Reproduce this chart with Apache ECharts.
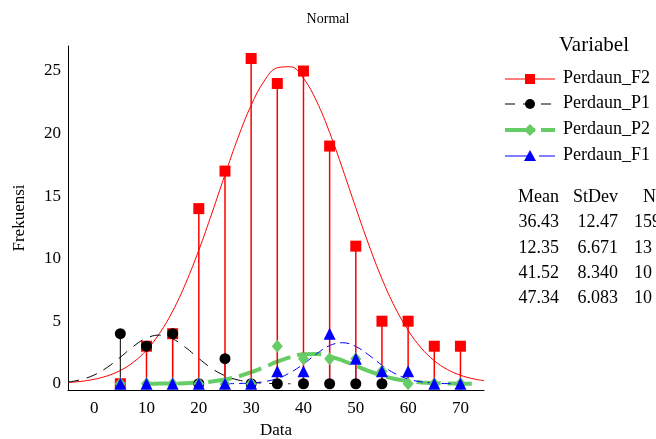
<!DOCTYPE html>
<html>
<head>
<meta charset="utf-8">
<script src="https://cdn.jsdelivr.net/npm/echarts@6/dist/echarts.min.js"></script>
<style>html,body{margin:0;padding:0;background:#fff}#chart{width:656px;height:439px}</style>
</head>
<body>
<div id="chart"></div>
<script>
// bin midpoints and counts
var bins = [5, 10, 15, 20, 25, 30, 35, 40, 45, 50, 55, 60, 65, 70];
var countF2 = [0, 3, 4, 14, 17, 26, 24, 25, 19, 11, 5, 5, 3, 3];
var countP1 = [4, 3, 4, 0, 2, 0, 0, 0, 0, 0, 0, null, null, null];
var countP2 = [0, 0, 0, 0, 0, 0, 3, 2, 2, 2, 1, 0, 0, 0];
var countF1 = [0, 0, 0, 0, 0, 0, 1, 1, 4, 2, 1, 1, 0, 0];

// fitted curves
var curveXF2 = [-5, -2.5, 0, 2.5, 5, 7.5, 10, 12.5, 15, 17.5, 20, 22.5, 25, 27.5, 30, 32.5, 35, 37.5, 40, 42.5, 45, 47.5, 50, 52.5, 55, 57.5, 60, 62.5, 65, 67.5, 70, 72.5, 74.5];
var curveF2 = [0.10, 0.19, 0.36, 0.63, 1.06, 1.72, 2.69, 4.03, 5.80, 8.04, 10.68, 13.63, 16.71, 19.68, 22.26, 24.20, 25.26, 25.34, 24.41, 22.59, 20.08, 17.15, 14.07, 11.09, 8.39, 6.10, 4.27, 2.86, 1.84, 1.14, 0.68, 0.39, 0.24];
var curveXP1 = [-5, -2.5, 0, 2.5, 5, 7.5, 10, 12.5, 15, 17.5, 20, 22.5, 25, 27.5, 30, 32.5, 35, 37.5];
var curveP1 = [0.13, 0.33, 0.70, 1.31, 2.12, 2.99, 3.65, 3.89, 3.59, 2.89, 2.02, 1.22, 0.64, 0.30, 0.12, 0.04, 0.01, 0.00];
var curveXP2 = [10, 12.5, 15, 17.5, 20, 22.5, 25, 27.5, 30, 32.5, 35, 37.5, 40, 42.5, 45, 47.5, 50, 52.5, 55, 57.5, 60, 62.5, 65, 67.5, 70, 72.5];
var curveP2 = [0.00, 0.01, 0.02, 0.04, 0.09, 0.18, 0.34, 0.58, 0.92, 1.33, 1.76, 2.13, 2.35, 2.38, 2.19, 1.85, 1.43, 1.01, 0.65, 0.38, 0.21, 0.10, 0.05, 0.02, 0.01, 0.00];
var curveXF1 = [25, 27.5, 30, 32.5, 35, 37.5, 40, 42.5, 45, 47.5, 50, 52.5, 55, 57.5, 60, 62.5, 65, 67.5, 70];
var curveF1 = [0.00, 0.02, 0.06, 0.17, 0.42, 0.89, 1.58, 2.39, 3.05, 3.28, 2.98, 2.29, 1.48, 0.81, 0.38, 0.15, 0.05, 0.01, 0.00];

var names = ['Perdaun_F2', 'Perdaun_P1', 'Perdaun_P2', 'Perdaun_F1'];
var colors = ['#ff0000', '#000000', '#66cc66', '#0000ff'];
var statsHead = ['Mean', 'StDev', 'N'];
var statMean = ['36.43', '12.35', '41.52', '47.34'];
var statSd = ['12.47', '6.671', '8.340', '6.083'];
var statN = ['159', '13', '10', '10'];
var xTicks = [0, 10, 20, 30, 40, 50, 60, 70];
var yTicks = [0, 5, 10, 15, 20, 25];

var FONT = 'Liberation Serif';

function pairs(xs, ys) {
    var out = [];
    for (var i = 0; i < xs.length; i++) {
        if (ys[i] !== null) out.push([xs[i], ys[i]]);
    }
    return out;
}

function stems(ys, color, width) {
    return {
        type: 'custom',
        z: 2,
        silent: true,
        data: pairs(bins, ys).filter(function (d) { return d[1] > 0; }),
        renderItem: function (params, api) {
            var p0 = api.coord([api.value(0), 0]);
            var p1 = api.coord([api.value(0), api.value(1)]);
            return {
                type: 'line',
                shape: { x1: p0[0], y1: p0[1], x2: p1[0], y2: p1[1] },
                style: { stroke: color, lineWidth: width }
            };
        }
    };
}

function curve(xs, ys, color, width, dash) {
    return {
        type: 'line',
        z: 1,
        silent: true,
        data: pairs(xs, ys),
        smooth: 0.4,
        symbol: 'none',
        lineStyle: { color: color, width: width, type: dash }
    };
}

function marks(ys, color, symbol, size, z) {
    return {
        type: 'scatter',
        z: z,
        silent: true,
        data: pairs(bins, ys),
        symbol: symbol,
        symbolSize: size,
        itemStyle: { color: color, opacity: 1 }
    };
}

var graphics = [
    { type: 'text', left: 'center', top: 12, style: { text: 'Normal', font: '14px ' + FONT, fill: '#000' } },
    { type: 'text', x: 559, y: 35, style: { text: 'Variabel', font: '21px ' + FONT, fill: '#000' } }
];

var legendY = [79, 104, 130, 156];
var legendDash = [null, [10, 8], [30, 6], [28, 6]];
var legendWidth = [1, 1, 4, 1];
for (var i = 0; i < names.length; i++) {
    graphics.push({
        type: 'line',
        shape: { x1: 505, y1: legendY[i], x2: 555, y2: legendY[i] },
        style: { stroke: colors[i], lineWidth: legendWidth[i], lineDash: legendDash[i] }
    });
    var sym;
    if (i === 0) sym = { type: 'rect', shape: { x: 525, y: legendY[i] - 5, width: 10, height: 10 } };
    else if (i === 1) sym = { type: 'circle', shape: { cx: 530, cy: legendY[i], r: 5 } };
    else if (i === 2) sym = { type: 'polygon', shape: { points: [[530, legendY[i] - 6], [536, legendY[i]], [530, legendY[i] + 6], [524, legendY[i]]] } };
    else sym = { type: 'polygon', shape: { points: [[530, legendY[i] - 6], [536, legendY[i] + 5], [524, legendY[i] + 5]] } };
    sym.style = { fill: colors[i] };
    graphics.push(sym);
    graphics.push({ type: 'text', x: 563, y: legendY[i] - 10, style: { text: names[i], font: '18px ' + FONT, fill: '#000' } });
}

var rowY = [198, 223, 249, 274, 299];
graphics.push({ type: 'text', x: 559, y: rowY[0] - 10, style: { text: statsHead[0], font: '18px ' + FONT, fill: '#000', align: 'right' } });
graphics.push({ type: 'text', x: 618, y: rowY[0] - 10, style: { text: statsHead[1], font: '18px ' + FONT, fill: '#000', align: 'right' } });
graphics.push({ type: 'text', x: 643, y: rowY[0] - 10, style: { text: statsHead[2], font: '18px ' + FONT, fill: '#000' } });
for (var r = 0; r < statMean.length; r++) {
    var yy = rowY[r + 1] - 10;
    graphics.push({ type: 'text', x: 559, y: yy, style: { text: statMean[r], font: '18px ' + FONT, fill: '#000', align: 'right' } });
    graphics.push({ type: 'text', x: 618, y: yy, style: { text: statSd[r], font: '18px ' + FONT, fill: '#000', align: 'right' } });
    graphics.push({ type: 'text', x: 634, y: yy, style: { text: statN[r], font: '18px ' + FONT, fill: '#000' } });
}

var myChart = echarts.init(document.getElementById('chart'));
var option = {
    animation: false,
    backgroundColor: '#fff',
    textStyle: { fontFamily: FONT },
    grid: { left: 68, right: 172, top: 46, bottom: 49, containLabel: false, outerBoundsMode: 'none' },
    xAxis: {
        type: 'value',
        min: -5,
        max: 74.5,
        name: 'Data',
        nameLocation: 'middle',
        nameGap: 31,
        nameTextStyle: { color: '#000', fontSize: 17, fontFamily: FONT },
        axisLine: { onZero: false, lineStyle: { color: '#000', width: 1 } },
        axisTick: { show: false },
        splitLine: { show: false },
        axisLabel: { customValues: xTicks, color: '#000', fontSize: 17, fontFamily: FONT, margin: 10 }
    },
    yAxis: {
        type: 'value',
        min: -0.5,
        max: 27,
        name: 'Frekuensi',
        nameLocation: 'middle',
        nameGap: 40,
        nameTextStyle: { color: '#000', fontSize: 17, fontFamily: FONT },
        axisLine: { show: true, onZero: false, lineStyle: { color: '#000', width: 1 } },
        axisTick: { show: false },
        splitLine: { show: false },
        axisLabel: { customValues: yTicks, color: '#000', fontSize: 17, fontFamily: FONT, margin: 7 }
    },
    graphic: graphics,
    series: [
        curve(curveXF2, curveF2, colors[0], 1, 'solid'),
        curve(curveXP1, curveP1, colors[1], 1, [11, 8]),
        curve(curveXP2, curveP2, colors[2], 4, [24, 7]),
        curve(curveXF1, curveF1, colors[3], 1, [9, 5]),
        stems(countP1, colors[1], 1),
        stems(countP2, colors[2], 1),
        stems(countF1, colors[3], 1),
        stems(countF2, colors[0], 1.5),
        marks(countF2, colors[0], 'rect', 11, 3),
        marks(countP1, colors[1], 'circle', 11, 4),
        marks(countP2, colors[2], 'diamond', [11, 13], 5),
        marks(countF1, colors[3], 'triangle', 12, 6)
    ]
};
myChart.setOption(option);
window.addEventListener('resize', function () {
    myChart.resize();
});
</script>
</body>
</html>
